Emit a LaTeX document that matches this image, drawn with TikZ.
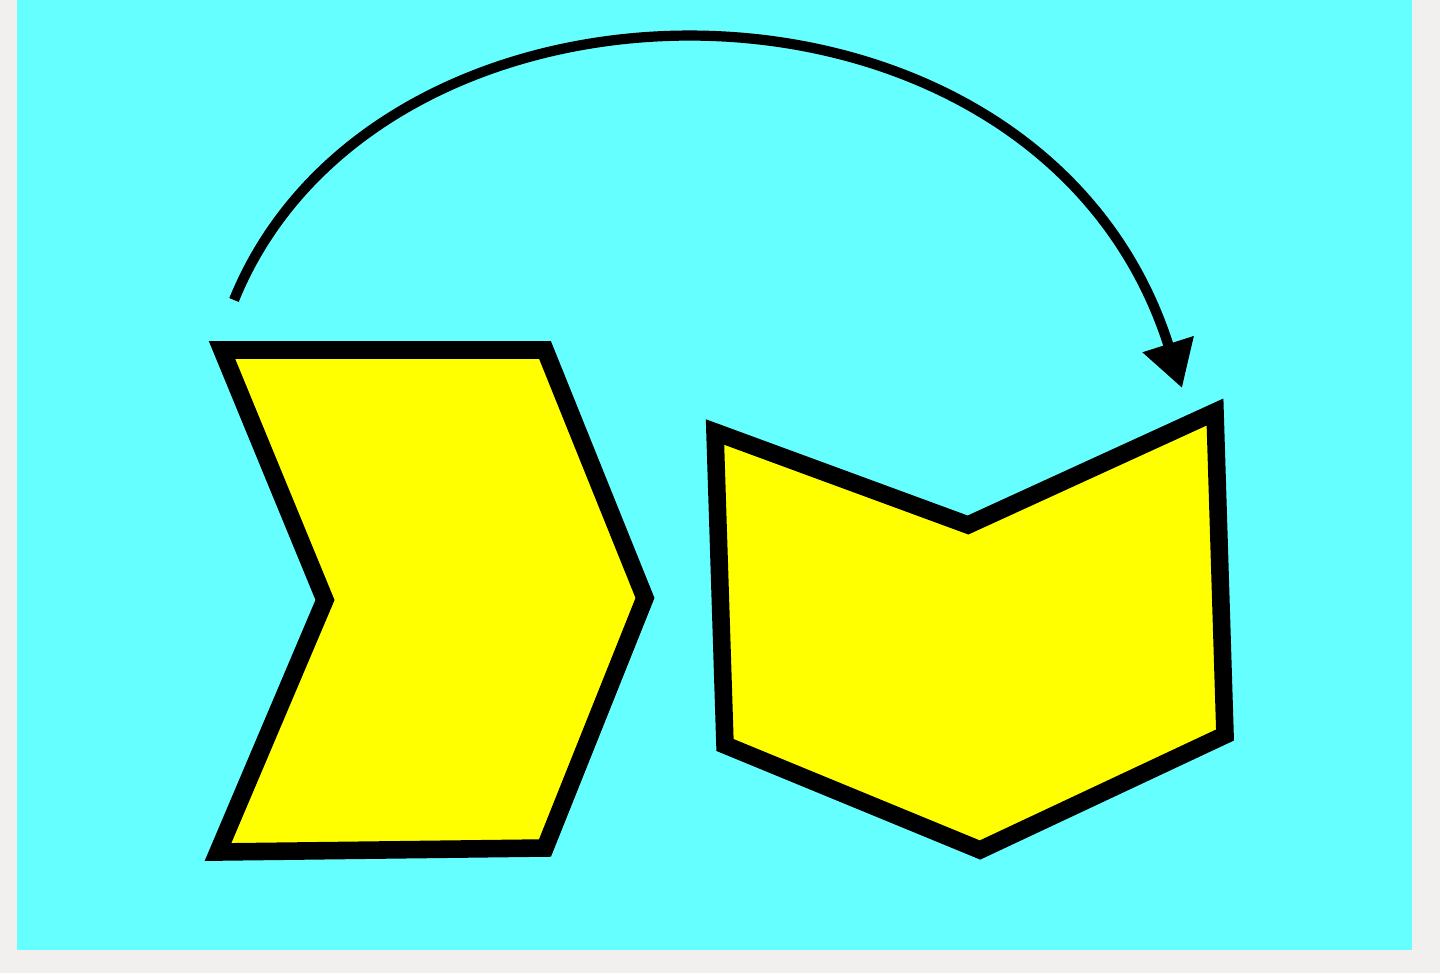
\documentclass[tikz,border=0pt]{standalone}
\usepackage{tikz}
\usetikzlibrary{arrows.meta}

\definecolor{paper}{HTML}{F2F0EF}
\definecolor{sky}{HTML}{66FFFF}
\definecolor{lemon}{HTML}{FFFF00}

\tikzset{
  piece/.style={draw=black, fill=lemon, line width=5pt, line join=miter},
  hop/.style={draw=black, line width=2.9pt, -{Triangle[length=4.6mm,width=5.1mm]}}
}

\begin{document}
\begin{tikzpicture}[x=0.01cm, y=-0.01cm]
\useasboundingbox (0,0) rectangle (1440,973);
\fill[paper] (0,0) rectangle (1440,973);
\fill[sky] (17,0) rectangle (1412,950);

% left chevron
\draw[piece] (222,350) -- (545,350) -- (645,598) -- (545,848)
  -- (218,852) -- (325,600) -- cycle;

% right chevron, turned
\draw[piece] (715,432) -- (968,525) -- (1215,412) -- (1225,735)
  -- (980,850) -- (725,745) -- cycle;

% jump
\coordinate (from) at (234,300);
\coordinate (to) at (1182,388);
\draw[hop] (from) .. controls (380,-60) and (1040,-60) .. (to);
\end{tikzpicture}
\end{document}
